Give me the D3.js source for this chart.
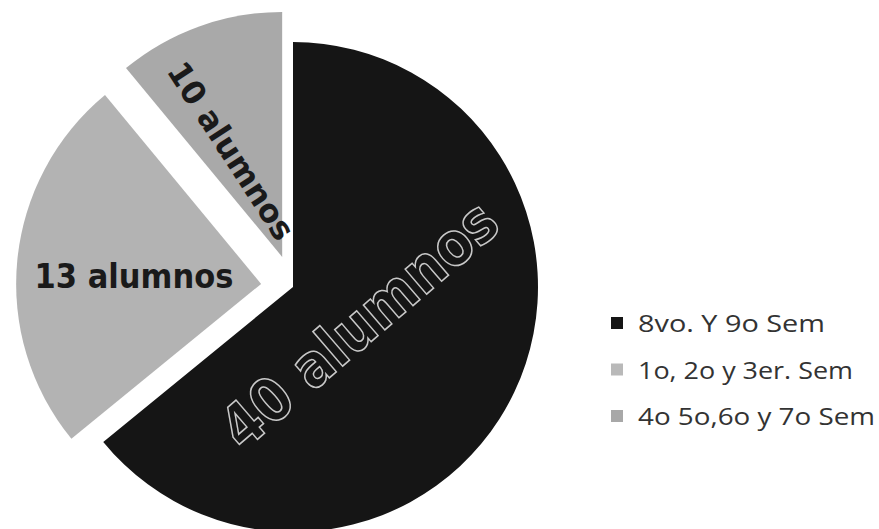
<!DOCTYPE html>
<html>
<head>
<meta charset="utf-8">
<script src="https://cdn.jsdelivr.net/npm/d3@7"></script>
<style>
  html, body { margin: 0; padding: 0; background: #ffffff; }
  svg { display: block; }
</style>
</head>
<body>
<svg id="chart" width="879" height="529"></svg>
<script>
// ---- data ----
const categories = ["8vo. Y 9o  Sem", "1o, 2o y 3er. Sem", "4o 5o,6o y 7o Sem"];
const shares = [64.1, 24.9, 11.0];            // slice sizes as drawn (percent of circle)
const sliceLabels = ["40 alumnos", "13 alumnos", "10 alumnos"];
const colors = ["#151515", "#b3b3b3", "#a9a9a9"];
const legendColors = ["#151515", "#b9b9b9", "#a8a8a8"];

const svg = d3.select("#chart");
const cx = 293, cy = 287, R = 245;
const explode = [0, 32, 32];

const data = categories.map((c, i) => ({ cat: c, value: shares[i], label: sliceLabels[i], i }));
const pie = d3.pie().sort(null).value(d => d.value).startAngle(0).endAngle(2 * Math.PI);
const arcs = pie(data);
const arc = d3.arc().innerRadius(0).outerRadius(R);

const g = svg.append("g").attr("transform", `translate(${cx},${cy})`);

function offset(d) {
  const a = (d.startAngle + d.endAngle) / 2;
  const e = explode[d.data.i];
  return [Math.sin(a) * e, -Math.cos(a) * e];
}

const slices = g.selectAll("g.slice").data(arcs).enter().append("g")
  .attr("class", "slice")
  .attr("transform", d => { const o = offset(d); return `translate(${o[0]},${o[1]})`; });

slices.append("path")
  .attr("d", arc)
  .attr("fill", d => colors[d.data.i]);

// label placement: fraction of radius along the slice direction, and text rotation
const labelRadius = [0.31, 0.52, 0.48];
const labelAngleShift = [4, -2, -6];   // degrees
const labelRotate = [-40.7, 0, 57];
const labelSize = [60, 34, 32];
const labelLength = [343, 199, 205];

slices.append("text")
  .attr("transform", d => {
    const a = (d.startAngle + d.endAngle) / 2 + labelAngleShift[d.data.i] * Math.PI / 180;
    const r = labelRadius[d.data.i] * R;
    return `translate(${Math.sin(a) * r},${-Math.cos(a) * r}) rotate(${labelRotate[d.data.i]})`;
  })
  .attr("text-anchor", "middle")
  .attr("dominant-baseline", "central")
  .attr("font-family", "'DejaVu Sans', sans-serif")
  .attr("font-weight", "bold")
  .attr("font-size", d => labelSize[d.data.i])
  .attr("textLength", d => labelLength[d.data.i])
  .attr("lengthAdjust", "spacingAndGlyphs")
  .attr("fill", d => d.data.i === 0 ? "#151515" : "#1a1a1a")
  .attr("stroke", d => d.data.i === 0 ? "#c8c8c8" : "none")
  .attr("stroke-width", d => d.data.i === 0 ? 1.6 : 0)
  .text(d => d.data.label);

// ---- legend ----
const legend = svg.append("g").attr("transform", "translate(611,323)");
const rowStep = 46.5;
const legendTextLength = [187, 215, 237];
const items = legend.selectAll("g.item").data(categories).enter().append("g")
  .attr("class", "item")
  .attr("transform", (d, i) => `translate(0,${i * rowStep})`);
items.append("rect")
  .attr("x", 0).attr("y", -6).attr("width", 12).attr("height", 12)
  .attr("fill", (d, i) => legendColors[i]);
items.append("text")
  .attr("x", 27).attr("y", 0)
  .attr("dominant-baseline", "central")
  .attr("font-family", "'Open Sans', sans-serif")
  .attr("font-size", 23)
  .attr("textLength", (d, i) => legendTextLength[i])
  .attr("lengthAdjust", "spacingAndGlyphs")
  .attr("fill", "#333333")
  .text(d => d);
</script>
</body>
</html>
